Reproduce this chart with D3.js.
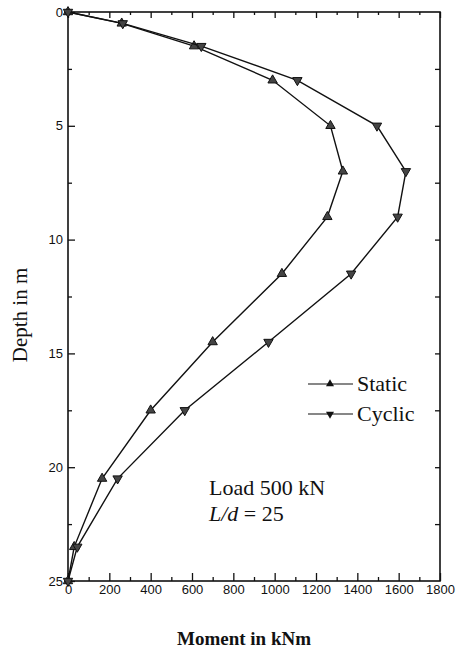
<!DOCTYPE html>
<html>
<head>
<meta charset="utf-8">
<script src="https://cdn.jsdelivr.net/npm/d3@7"></script>
<style>
  body { margin: 0; background: #fff; }
  .axis text { font-family: "Liberation Sans", Arial, sans-serif; font-size: 13px; fill: #111; }
  .axis line { stroke: #111; stroke-width: 1.3px; }
  .axis path { display: none; }
  .serif { font-family: "Liberation Serif", "Times New Roman", serif; fill: #111; }
</style>
</head>
<body>
<svg id="chart" width="456" height="649"></svg>
<script>
// depth in m (same for both series)
const depths = [0, 0.5, 1.5, 3, 5, 7, 9, 11.5, 14.5, 17.5, 20.5, 23.5, 25];
// moment in kNm
const staticMoment = [0, 260, 610, 990, 1270, 1330, 1255, 1035, 700, 400, 165, 30, 0];
const cyclicMoment = [0, 265, 645, 1110, 1495, 1635, 1595, 1370, 970, 565, 240, 45, 0];
const xTicks = [0, 200, 400, 600, 800, 1000, 1200, 1400, 1600, 1800];
const yTicks = [0, 5, 10, 15, 20, 25];
const seriesNames = ["Static", "Cyclic"];

const svg = d3.select("#chart");

const x = d3.scaleLinear().domain([0, 1800]).range([68, 440]);
const y = d3.scaleLinear().domain([0, 25]).range([12, 581]);

// frame
svg.append("rect")
  .attr("x", x(0)).attr("y", y(0))
  .attr("width", x(1800) - x(0)).attr("height", y(25) - y(0))
  .attr("fill", "none").attr("stroke", "#111").attr("stroke-width", 1.6);

const minorX = d3.range(100, 1800, 200);
const minorY = d3.range(2.5, 25, 5);

// bottom axis
svg.append("g").attr("class", "axis")
  .attr("transform", "translate(0," + y(25) + ")")
  .call(d3.axisBottom(x).tickValues(xTicks).tickSize(-8).tickPadding(4).tickFormat(d3.format("d")));
svg.append("g").attr("class", "axis")
  .attr("transform", "translate(0," + y(25) + ")")
  .call(d3.axisBottom(x).tickValues(minorX).tickSize(-4).tickFormat(""));

// top axis
svg.append("g").attr("class", "axis")
  .attr("transform", "translate(0," + y(0) + ")")
  .call(d3.axisTop(x).tickValues(xTicks).tickSize(-6).tickFormat(""));
svg.append("g").attr("class", "axis")
  .attr("transform", "translate(0," + y(0) + ")")
  .call(d3.axisTop(x).tickValues(minorX).tickSize(-3).tickFormat(""));

// left axis
svg.append("g").attr("class", "axis")
  .attr("transform", "translate(" + x(0) + ",0)")
  .call(d3.axisLeft(y).tickValues(yTicks).tickSize(-7).tickPadding(5));
svg.append("g").attr("class", "axis")
  .attr("transform", "translate(" + x(0) + ",0)")
  .call(d3.axisLeft(y).tickValues(minorY).tickSize(-4).tickFormat(""));

// right axis
svg.append("g").attr("class", "axis")
  .attr("transform", "translate(" + x(1800) + ",0)")
  .call(d3.axisRight(y).tickValues(d3.range(2.5, 25, 2.5)).tickSize(-5).tickFormat(""));

// series
const series = [
  { name: seriesNames[0], values: staticMoment, rot: 0 },
  { name: seriesNames[1], values: cyclicMoment, rot: 180 },
];

const line = d3.line()
  .x((d) => x(d[0]))
  .y((d) => y(d[1]));

const tri = d3.symbol().type(d3.symbolTriangle);

series.forEach((s) => {
  const pts = s.values.map((v, i) => [v, depths[i]]);
  svg.append("path")
    .datum(pts)
    .attr("d", line)
    .attr("fill", "none")
    .attr("stroke", "#111")
    .attr("stroke-width", 1.4);

  svg.append("g").selectAll("path")
    .data(pts)
    .enter()
    .append("path")
    .attr("d", tri.size(38))
    .attr("transform", (d) => "translate(" + x(d[0]) + "," + y(d[1]) + ") rotate(" + s.rot + ")")
    .attr("fill", "#444")
    .attr("stroke", "#111")
    .attr("stroke-width", 1);
});

// legend
const legend = svg.append("g");
series.forEach((s, i) => {
  const ly = 384 + i * 30;
  legend.append("line")
    .attr("x1", 308).attr("x2", 353)
    .attr("y1", ly).attr("y2", ly)
    .attr("stroke", "#111").attr("stroke-width", 1.2);
  legend.append("path")
    .attr("d", tri.size(28))
    .attr("transform", "translate(330," + ly + ") rotate(" + s.rot + ")")
    .attr("fill", "#111");
  legend.append("text")
    .attr("class", "serif")
    .attr("x", 357).attr("y", ly + 7)
    .style("font-size", "22px")
    .text(s.name);
});

// annotation
svg.append("text")
  .attr("class", "serif")
  .attr("x", 209).attr("y", 495)
  .style("font-size", "22px")
  .text("Load 500 kN");
const note2 = svg.append("text")
  .attr("class", "serif")
  .attr("x", 209).attr("y", 521)
  .style("font-size", "22px");
note2.append("tspan").style("font-style", "italic").text("L/d");
note2.append("tspan").text(" = 25");

// axis titles
svg.append("text")
  .attr("class", "serif")
  .attr("x", 244).attr("y", 645)
  .attr("text-anchor", "middle")
  .style("font-weight", "bold")
  .style("font-size", "19px")
  .text("Moment in kNm");

svg.append("text")
  .attr("class", "serif")
  .attr("transform", "translate(27,315) rotate(-90)")
  .attr("text-anchor", "middle")
  .style("font-size", "21px")
  .text("Depth in m");
</script>
</body>
</html>
